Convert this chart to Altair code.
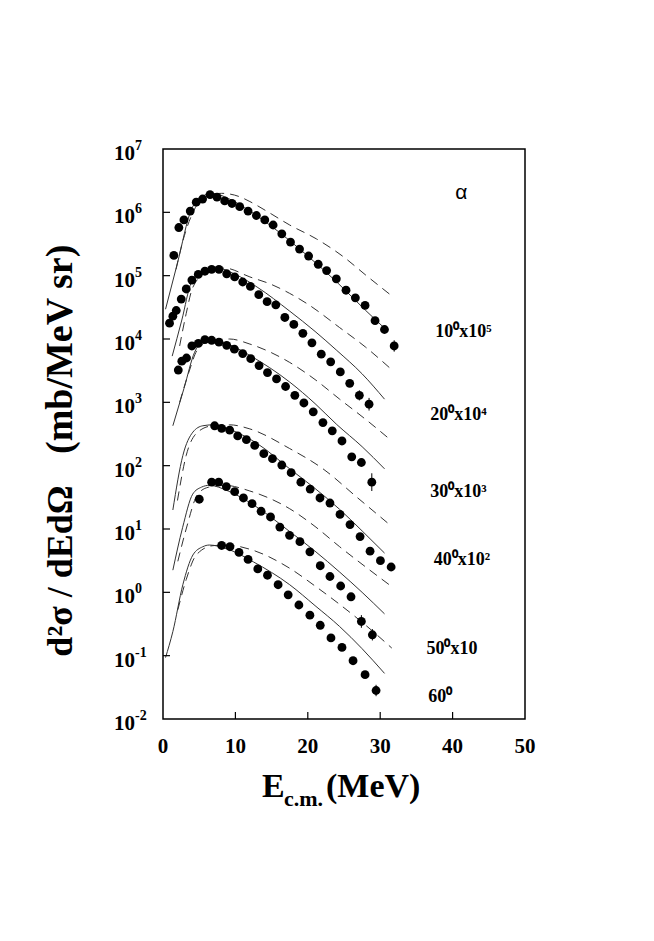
import altair as alt
import pandas as pd

# ---------------- data (E in MeV, log10 of d2sigma) ----------------
series_names = ["10x10^5", "20x10^4", "30x10^3", "40x10^2", "50x10", "60"]

# experimental points
p1_E = [1.50, 2.19, 2.89, 3.76, 4.59, 5.47, 6.49, 7.46, 8.52, 9.53, 10.60, 11.75, 12.90, 14.06,
        15.21, 16.41, 17.61, 18.86, 20.11, 21.44, 22.60, 23.94, 25.28, 26.57, 27.91, 29.29, 30.59, 31.93]
p1_L = [5.32, 5.76, 5.88, 6.02, 6.16, 6.21, 6.28, 6.24, 6.18, 6.14, 6.09, 6.02, 5.95, 5.88,
        5.80, 5.66, 5.53, 5.42, 5.31, 5.18, 5.08, 4.95, 4.77, 4.65, 4.53, 4.29, 4.15, 3.89]
p2_E = [0.90, 1.36, 1.83, 2.52, 3.21, 3.99, 4.87, 5.79, 6.72, 7.73, 8.80, 9.90, 11.01, 12.07,
        13.23, 14.38, 15.58, 16.83, 18.07, 19.32, 20.57, 21.86, 23.16, 24.49, 25.79, 27.12, 28.46]
p2_L = [4.25, 4.36, 4.45, 4.63, 4.79, 4.93, 5.02, 5.07, 5.10, 5.10, 5.03, 4.98, 4.90, 4.83,
        4.70, 4.59, 4.54, 4.34, 4.23, 4.09, 3.94, 3.76, 3.64, 3.48, 3.30, 3.11, 2.97]
p3_E = [2.11, 2.60, 3.25, 3.99, 4.88, 5.79, 6.72, 7.73, 8.80, 9.86, 11.01, 12.12, 13.27, 14.43,
        15.68, 16.93, 18.21, 19.46, 20.75, 22.09, 23.38, 24.72, 26.07, 27.40, 28.84]
p3_L = [3.51, 3.65, 3.70, 3.89, 3.93, 3.99, 3.98, 3.95, 3.90, 3.84, 3.77, 3.69, 3.58, 3.47,
        3.37, 3.25, 3.11, 2.99, 2.85, 2.68, 2.55, 2.39, 2.14, 2.05, 1.74]
p4_E = [7.13, 8.10, 9.21, 10.32, 11.52, 12.67, 13.92, 15.12, 16.41, 17.70, 19.04, 20.33, 21.68,
        23.06, 24.45, 25.83, 27.22, 28.60, 30.03, 31.51]
p4_L = [2.63, 2.59, 2.56, 2.47, 2.41, 2.32, 2.19, 2.11, 2.01, 1.89, 1.74, 1.63, 1.49,
        1.41, 1.23, 1.07, 0.88, 0.65, 0.50, 0.40]
p5_E = [5.01, 6.72, 7.69, 8.75, 9.90, 11.11, 12.30, 13.55, 14.85, 16.14, 17.48, 18.91, 20.29,
        21.72, 23.06, 24.54, 25.97, 27.40, 28.92]
p5_L = [1.47, 1.74, 1.74, 1.67, 1.59, 1.49, 1.40, 1.28, 1.19, 1.03, 0.90, 0.80, 0.64,
        0.42, 0.25, 0.10, -0.07, -0.46, -0.67]
p6_E = [8.10, 9.25, 10.50, 11.75, 13.09, 14.43, 15.90, 17.29, 18.77, 20.29, 21.72, 23.20, 24.72,
        26.25, 27.91, 29.43]
p6_L = [0.74, 0.72, 0.63, 0.52, 0.37, 0.27, 0.12, -0.04, -0.20, -0.36, -0.52, -0.72, -0.87,
        -1.08, -1.30, -1.55]

# error bars on a few tail points (E, low log, high log)
err_E = [31.93, 27.12, 28.46, 28.84, 27.40, 28.92, 29.43]
err_lo = [3.80, 3.03, 2.87, 1.60, -0.56, -0.76, -1.64]
err_hi = [3.98, 3.19, 3.07, 1.88, -0.36, -0.58, -1.46]

# calculated curves: solid
s1_E = [0.35, 2.0, 3.9, 5.0, 6.9, 9.0, 12.0, 16.0, 20.0, 24.0, 28.0, 30.6]
s1_L = [4.47, 5.20, 6.04, 6.22, 6.30, 6.22, 6.02, 5.69, 5.31, 4.90, 4.45, 4.17]
s2_E = [1.27, 2.6, 3.9, 5.5, 7.4, 10.0, 13.0, 17.5, 21.0, 24.0, 27.5, 30.6]
s2_L = [3.73, 4.30, 4.89, 5.08, 5.12, 5.02, 4.82, 4.44, 4.12, 3.82, 3.45, 3.05]
s3_E = [1.36, 2.9, 4.36, 5.3, 6.4, 9.0, 12.0, 17.5, 21.0, 24.0, 27.5, 30.6]
s3_L = [2.63, 3.22, 3.79, 3.95, 4.00, 3.92, 3.74, 3.32, 2.98, 2.65, 2.30, 1.95]
s4_E = [1.36, 2.74, 4.13, 5.5, 6.9, 9.5, 13.0, 17.5, 21.0, 24.4, 27.5, 30.6]
s4_L = [1.30, 2.16, 2.53, 2.63, 2.645, 2.56, 2.35, 1.95, 1.64, 1.31, 0.97, 0.62]
s5_E = [1.36, 2.7, 4.1, 5.3, 6.4, 9.0, 12.5, 17.5, 21.0, 24.4, 27.5, 30.6]
s5_L = [0.35, 1.02, 1.55, 1.66, 1.69, 1.60, 1.38, 0.96, 0.65, 0.32, 0.0, -0.34]
s6_E = [0.35, 1.36, 2.74, 4.13, 5.5, 6.4, 9.0, 12.5, 17.5, 21.0, 24.4, 27.5, 30.6]
s6_L = [-1.03, -0.62, 0.12, 0.59, 0.72, 0.747, 0.68, 0.48, 0.12, -0.21, -0.54, -0.89, -1.28]

# calculated curves: dashed
d1_E = [1.8, 2.75, 4.1, 5.5, 8.1, 10.5, 12.0, 14.3, 17.5, 21.2, 24.9, 28.1, 31.5]
d1_L = [5.10, 5.55, 5.99, 6.22, 6.30, 6.25, 6.17, 6.02, 5.80, 5.58, 5.30, 5.00, 4.69]
d2_E = [2.3, 3.2, 4.1, 6.0, 8.5, 12.0, 15.0, 17.5, 20.0, 24.4, 28.0, 31.5]
d2_L = [3.89, 4.40, 4.81, 5.05, 5.12, 4.98, 4.86, 4.72, 4.55, 4.18, 3.87, 3.525]
d3_E = [2.3, 3.5, 4.8, 6.5, 9.2, 12.0, 17.5, 21.0, 24.4, 28.0, 31.5]
d3_L = [3.00, 3.45, 3.84, 3.97, 4.00, 3.92, 3.63, 3.36, 3.05, 2.73, 2.40]
d4_E = [2.0, 3.2, 4.8, 6.8, 9.2, 12.0, 17.5, 22.1, 26.8, 31.6]
d4_L = [1.45, 2.16, 2.53, 2.63, 2.645, 2.58, 2.27, 1.95, 1.50, 1.04]
d5_E = [2.05, 3.2, 4.8, 6.3, 8.5, 12.0, 17.5, 21.0, 24.4, 28.0, 31.6]
d5_L = [0.49, 1.00, 1.55, 1.66, 1.69, 1.60, 1.32, 1.04, 0.72, 0.40, 0.09]
d6_E = [2.05, 3.2, 4.6, 6.9, 8.9, 12.0, 17.5, 21.0, 24.4, 28.0, 31.6]
d6_L = [-0.275, 0.20, 0.59, 0.737, 0.747, 0.68, 0.38, 0.10, -0.19, -0.52, -0.88]

# annotations
ann_text = ["10⁰x10⁵", "20⁰x10⁴", "30⁰x10³", "40⁰x10²", "50⁰x10", "60⁰"]
ann_E = [41.5, 40.8, 40.8, 41.3, 39.9, 38.3]
ann_L = [4.11, 2.80, 1.59, 0.51, -0.89, -1.66]
alpha_text = ["α"]
alpha_E = [41.2]
alpha_L = [6.30]

# axes
x_ticks = [0, 10, 20, 30, 40, 50]
x_inner_ticks = [10, 20, 30, 40]
y_exps = [-2, -1, 0, 1, 2, 3, 4, 5, 6, 7]
y_base_text = "10"
y_inner_exps = [-1, 0, 1, 2, 3, 4, 5, 6]
x_title_parts = ["E", "c.m.", "(MeV)"]
y_title_parts = ["d²σ / dEdΩ", "(mb/MeV sr)"]

# ---------------- build tables ----------------
def make(names, Es, Ls):
    rows = []
    for n, E, L in zip(names, Es, Ls):
        for e, l in zip(E, L):
            rows.append({"s": n, "E": e, "v": 10 ** l})
    return pd.DataFrame(rows)

pts = make(series_names, [p1_E, p2_E, p3_E, p4_E, p5_E, p6_E], [p1_L, p2_L, p3_L, p4_L, p5_L, p6_L])
sol = make(series_names, [s1_E, s2_E, s3_E, s4_E, s5_E, s6_E], [s1_L, s2_L, s3_L, s4_L, s5_L, s6_L])
das = make(series_names, [d1_E, d2_E, d3_E, d4_E, d5_E, d6_E], [d1_L, d2_L, d3_L, d4_L, d5_L, d6_L])
errs = pd.DataFrame({"E": err_E, "v": [10 ** a for a in err_lo], "v2": [10 ** b for b in err_hi]})
ann = pd.DataFrame({"E": ann_E, "v": [10 ** a for a in ann_L], "t": ann_text})
alp = pd.DataFrame({"E": alpha_E, "v": [10 ** a for a in alpha_L], "t": alpha_text})
xt = pd.DataFrame({"E": x_inner_ticks})
xlab = pd.DataFrame({"E": x_ticks, "t": [str(t) for t in x_ticks]})
yt = pd.DataFrame({"v": [10.0 ** e for e in y_inner_exps]})
ylab = pd.DataFrame({"v": [10.0 ** e for e in y_exps], "b": [y_base_text] * len(y_exps),
                     "e": [str(e) for e in y_exps]})

W, H = 362, 570
FONT = "Liberation Serif"

x_scale = alt.Scale(domain=[0, 50], nice=False)
y_scale = alt.Scale(type="log", domain=[1e-2, 1e7], nice=False)
X = alt.X("E:Q", scale=x_scale, axis=None)
Y = alt.Y("v:Q", scale=y_scale, axis=None)

points = alt.Chart(pts).mark_circle(size=78, color="black", opacity=1).encode(x=X, y=Y)
solid = alt.Chart(sol).mark_line(color="#333333", strokeWidth=1, interpolate="monotone").encode(
    x=X, y=Y, detail="s:N")
dashed = alt.Chart(das).mark_line(color="#333333", strokeWidth=1, strokeDash=[9, 6],
                                  interpolate="monotone").encode(x=X, y=Y, detail="s:N")
ebars = alt.Chart(errs).mark_rule(color="black", strokeWidth=1).encode(x=X, y=Y, y2="v2:Q")
xticks = alt.Chart(xt).mark_rule(color="black", strokeWidth=1.2).encode(
    x=X, y=alt.value(H), y2=alt.value(H - 7))
yticks = alt.Chart(yt).mark_rule(color="black", strokeWidth=1.2).encode(
    y=Y, x=alt.value(0), x2=alt.value(7))
xlabels = alt.Chart(xlab).mark_text(font=FONT, fontWeight="bold", fontSize=21, color="black",
                                    align="center", baseline="middle").encode(
    x=X, y=alt.value(H + 28), text="t:N")
ylab_base = alt.Chart(ylab).mark_text(font=FONT, fontWeight="bold", fontSize=21, color="black",
                                      align="right", baseline="middle", dy=5).encode(
    y=Y, x=alt.value(-28), text="b:N")
ylab_exp = alt.Chart(ylab).mark_text(font=FONT, fontWeight="bold", fontSize=14, color="black",
                                     align="left", baseline="middle", dy=-3).encode(
    y=Y, x=alt.value(-28), text="e:N")
labels = alt.Chart(ann).mark_text(font=FONT, fontWeight="bold", fontSize=18, color="black",
                                  align="center", baseline="middle").encode(x=X, y=Y, text="t:N")
alpha = alt.Chart(alp).mark_text(font="Liberation Sans", fontSize=21, color="black",
                                 align="center", baseline="middle").encode(x=X, y=Y, text="t:N")

xt1 = alt.Chart(pd.DataFrame({"t": [x_title_parts[0]]})).mark_text(
    font=FONT, fontWeight="bold", fontSize=34, align="left", baseline="alphabetic", color="black"
).encode(text="t:N", x=alt.value(99), y=alt.value(648))
xt2 = alt.Chart(pd.DataFrame({"t": [x_title_parts[1]]})).mark_text(
    font=FONT, fontWeight="bold", fontSize=22, align="left", baseline="alphabetic", color="black"
).encode(text="t:N", x=alt.value(121), y=alt.value(657))
xt3 = alt.Chart(pd.DataFrame({"t": [x_title_parts[2]]})).mark_text(
    font=FONT, fontWeight="bold", fontSize=34, align="left", baseline="alphabetic", color="black"
).encode(text="t:N", x=alt.value(163), y=alt.value(648))
yt1 = alt.Chart(pd.DataFrame({"t": [y_title_parts[0]]})).mark_text(
    font=FONT, fontWeight="bold", fontSize=36, angle=270, align="center", baseline="alphabetic",
    color="black").encode(text="t:N", x=alt.value(-91), y=alt.value(422))
yt2 = alt.Chart(pd.DataFrame({"t": [y_title_parts[1]]})).mark_text(
    font=FONT, fontWeight="bold", fontSize=38, angle=270, align="left", baseline="alphabetic",
    color="black").encode(text="t:N", x=alt.value(-91), y=alt.value(305))

chart = alt.layer(
    solid, dashed, ebars, points, xticks, yticks, xlabels, ylab_base, ylab_exp, labels, alpha,
    xt1, xt2, xt3, yt1, yt2
).properties(
    width=W, height=H,
    autosize=alt.AutoSizeParams(type="none"),
    padding={"left": 155, "top": 141, "right": 120, "bottom": 200},
    background="white",
).configure_view(stroke="black", strokeWidth=1.5)

chart.save("out.html", embed_options={"renderer": "svg", "actions": False})
